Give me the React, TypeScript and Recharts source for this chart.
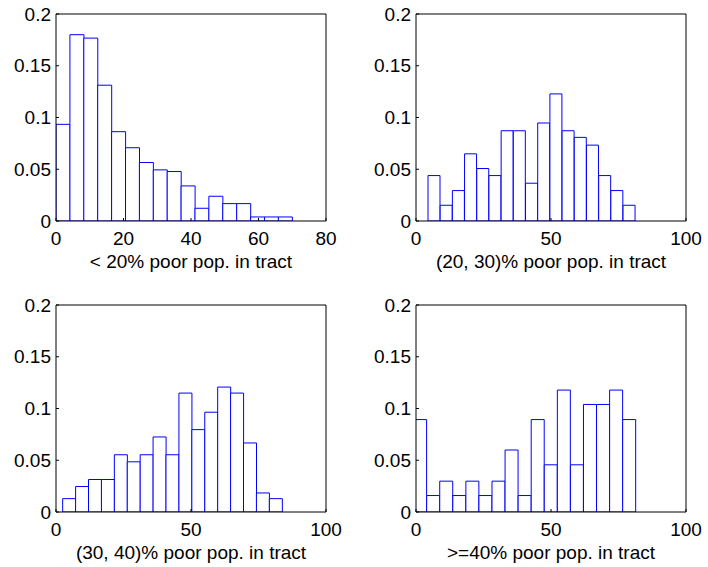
import { BarChart, Bar, XAxis, YAxis, Label } from 'recharts';

const yTicks = [0, 0.05, 0.1, 0.15, 0.2];
const ticks80 = [0, 20, 40, 60, 80];
const ticks100 = [0, 50, 100];

// bin centres and bar heights
const binsLow = [2.06, 6.18, 10.29, 14.41, 18.53, 22.65, 26.76, 30.88, 35.0, 39.12, 43.24, 47.35, 51.47, 55.59, 59.71, 63.82, 67.94];
const shareLow = [0.0934, 0.18, 0.1767, 0.1312, 0.0863, 0.0708, 0.0565, 0.0494, 0.0478, 0.0339, 0.0123, 0.0239, 0.0168, 0.0168, 0.0039, 0.0039, 0.0039];

const bins2030 = [6.7, 11.21, 15.73, 20.24, 24.76, 29.27, 33.79, 38.3, 42.82, 47.33, 51.85, 56.36, 60.88, 65.39, 69.91, 74.42, 78.94];
const share2030 = [0.0439, 0.0152, 0.0294, 0.0649, 0.0507, 0.0439, 0.0872, 0.0872, 0.0365, 0.0947, 0.1228, 0.0872, 0.0808, 0.0733, 0.0439, 0.0294, 0.0152];

const bins3040 = [4.86, 9.65, 14.43, 19.21, 24.0, 28.78, 33.57, 38.35, 43.13, 47.92, 52.7, 57.49, 62.27, 67.05, 71.84, 76.62, 81.41];
const share3040 = [0.0129, 0.0246, 0.0314, 0.0314, 0.0553, 0.0485, 0.0553, 0.0725, 0.0553, 0.1149, 0.0796, 0.0964, 0.1207, 0.1149, 0.0667, 0.0184, 0.0129];

const binsHigh = [1.53, 6.37, 11.21, 16.05, 20.89, 25.73, 30.57, 35.41, 40.25, 45.09, 49.93, 54.77, 59.61, 64.45, 69.29, 74.13, 78.97];
const shareHigh = [0.0893, 0.0159, 0.0298, 0.0159, 0.0298, 0.0159, 0.0298, 0.0599, 0.0159, 0.0893, 0.0456, 0.1178, 0.0456, 0.1039, 0.1039, 0.1178, 0.0893];

const tickStyle = { fill: '#000', fontSize: 19 };

function Hist({ bins, shares, xMax, xTicks, label }: {
  bins: number[];
  shares: number[];
  xMax: number;
  xTicks: number[];
  label: string;
}) {
  const data = bins.map((x, i) => ({ x, share: shares[i] }));
  return (
    <BarChart
      width={348}
      height={276}
      data={data}
      margin={{ top: 13, right: 21, bottom: 25, left: 0 }}
      barCategoryGap={0}
      barGap={0}
    >
      <XAxis
        dataKey="x"
        type="number"
        domain={[0, xMax]}
        ticks={xTicks}
        interval={0}
        allowDataOverflow
        height={30}
        tickSize={-3}
        tickMargin={14}
        stroke="#000"
        tick={tickStyle}
      >
        <Label value={label} position="bottom" offset={4} fill="#000" fontSize={19} />
      </XAxis>
      {/* box: top and right edges with inward ticks, no labels */}
      <XAxis
        xAxisId="top"
        orientation="top"
        dataKey="x"
        type="number"
        domain={[0, xMax]}
        ticks={xTicks}
        interval={0}
        allowDataOverflow
        height={1}
        tickSize={-3}
        tick={false}
        stroke="#000"
      />
      <YAxis
        type="number"
        domain={[0, 0.2]}
        ticks={yTicks}
        interval={0}
        allowDataOverflow
        width={56}
        tickSize={-3}
        tickMargin={8}
        stroke="#000"
        tick={tickStyle}
      />
      <YAxis
        yAxisId="right"
        orientation="right"
        type="number"
        domain={[0, 0.2]}
        ticks={yTicks}
        interval={0}
        allowDataOverflow
        width={1}
        tickSize={-3}
        tick={false}
        stroke="#000"
      />
      <Bar dataKey="share" fill="#fff" stroke="#0000ff" strokeWidth={1} isAnimationActive={false} />
    </BarChart>
  );
}

export default function App() {
  const box = (left: number, top: number) => ({ position: 'absolute' as const, left, top });
  return (
    <div
      style={{
        position: 'absolute',
        left: 0,
        top: 0,
        width: 708,
        height: 567,
        overflow: 'hidden',
        background: '#fff',
        fontFamily: '"Liberation Sans", Arial, Helvetica, sans-serif'
      }}
    >
      <div style={box(0, 0)}>
        <Hist bins={binsLow} shares={shareLow} xMax={80} xTicks={ticks80} label="< 20% poor pop. in tract" />
      </div>
      <div style={box(360, 0)}>
        <Hist bins={bins2030} shares={share2030} xMax={100} xTicks={ticks100} label="(20, 30)% poor pop. in tract" />
      </div>
      <div style={box(0, 291)}>
        <Hist bins={bins3040} shares={share3040} xMax={100} xTicks={ticks100} label="(30, 40)% poor pop. in tract" />
      </div>
      <div style={box(360, 291)}>
        <Hist bins={binsHigh} shares={shareHigh} xMax={100} xTicks={ticks100} label=">=40% poor pop. in tract" />
      </div>
    </div>
  );
}
